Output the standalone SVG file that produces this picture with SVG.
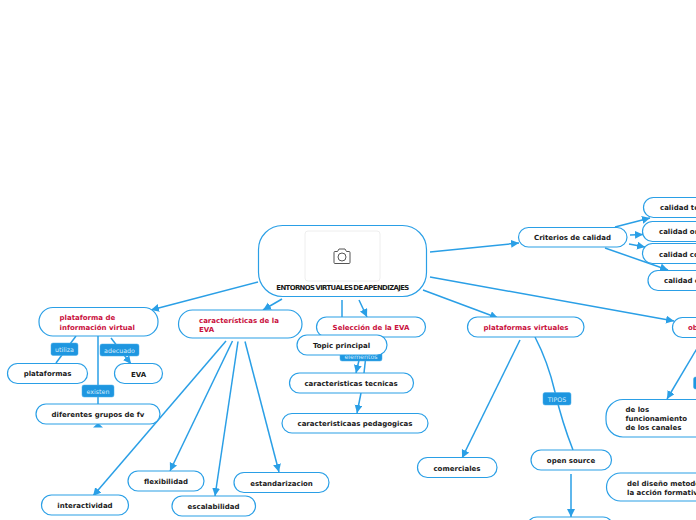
<svg xmlns="http://www.w3.org/2000/svg" width="696" height="520" viewBox="0 0 696 520">
<style>
.n{fill:#fff;stroke:#2a9fe6;stroke-width:1.2}
.t{font-family:"DejaVu Sans",sans-serif;font-weight:700;font-size:7px;fill:#1a1a1a;text-anchor:middle}
.s{text-anchor:start}
.r{fill:#c9103d}
.c{fill:none;stroke:#2a9fe6;stroke-width:1.5}
.a{marker-end:url(#h)}
.lb{fill:#1e96e0;stroke:#4aaeea;stroke-width:.5}
.lt{font-family:"DejaVu Sans",sans-serif;font-size:6.3px;fill:#d5ecfb;text-anchor:middle}
</style>
<defs>
<marker id="h" markerUnits="userSpaceOnUse" markerWidth="10" markerHeight="10" refX="8" refY="4" orient="auto"><path d="M0 0L8 4L0 8Z" fill="#2a9fe6"/></marker>
</defs>
<g id="connectors">
<path class="c a" d="M430 252L519 243"/>
<path class="c a" d="M258 282L151 310"/>
<path class="c a" d="M282 299L263 310"/>
<path class="c" d="M342 300V340"/>
<path class="c a" d="M359 300L367 317"/>
<path class="c a" d="M423 290L498 318"/>
<path class="c a" d="M430 277L674 321"/>
<path class="c a" d="M615 227L650 218"/>
<path class="c a" d="M630 235L643 234.500"/>
<path class="c a" d="M629 244L645 247"/>
<path class="c a" d="M605 248L668 270"/>
<path class="c" d="M76 336L56 363"/>
<path class="c a" d="M111 338L131 364"/>
<path class="c" d="M98 336V404"/>
<path class="c a" d="M226 341L93 496"/>
<path class="c a" d="M232.500 341L170 471"/>
<path class="c a" d="M238 341.500L215 496"/>
<path class="c a" d="M245 341.500L279 472"/>
<path class="c a" d="M360 356L356 373"/>
<path class="c" d="M366 355L364 373"/>
<path class="c a" d="M361 393L357 413"/>
<path class="c a" d="M520 340L462 458"/>
<path class="c" d="M535 337Q548 362 555 392T573 450"/>
<path class="c a" d="M571 474V517"/>
<path class="c a" d="M702 340L667 399"/>
<path d="M98 423L103 427.500H93Z" fill="#2a9fe6"/>
</g>
<g id="root"><rect class="n" x="258.500" y="225.500" width="168" height="71" rx="24"/>
<rect x="305" y="231" width="75" height="50" rx="3" fill="#fff" stroke="#eeeeee"/>
<g fill="none" stroke="#555" stroke-width="1"><path d="M334 252.500a1 1 0 0 1 1-1h2.500l1.500-2.500h6l1.500 2.500h2.500a1 1 0 0 1 1 1v10a1 1 0 0 1-1 1h-14a1 1 0 0 1-1-1z"/><circle cx="342" cy="257" r="4"/></g>
<text class="t" x="342.500" y="290" style="font-size:6.9px;letter-spacing:-.6px;word-spacing:-.8px">ENTORNOS VIRTUALES DE APENDIZAJES</text></g>
<g id="n-criterios"><rect class="n" x="518.500" y="227.500" width="108.500" height="19.500" rx="10"/><text class="t" x="572.500" y="240">Criterios de calidad</text></g>
<g id="n-tecnica"><rect class="n" x="643.500" y="197.500" width="70" height="20" rx="10"/><text class="t s" x="660" y="210">calidad te</text></g>
<g id="n-organizativa"><rect class="n" x="642.500" y="221.500" width="70" height="20" rx="10"/><text class="t s" x="659" y="234">calidad or</text></g>
<g id="n-comunicativa"><rect class="n" x="642.500" y="243.500" width="70" height="20" rx="10"/><text class="t s" x="659" y="257">calidad co</text></g>
<g id="n-e"><rect class="n" x="648" y="270.500" width="70" height="20" rx="10"/><text class="t s" x="664" y="283">calidad e</text></g>
<g id="n-plataforma"><rect class="n" x="39" y="307.500" width="119" height="28.500" rx="14"/><text class="t s r" x="59.500" y="320">plataforma de</text><text class="t s r" x="59.500" y="329.500">información virtual</text></g>
<g id="n-plataformas"><rect class="n" x="7.500" y="363.500" width="80" height="20" rx="10"/><text class="t" x="47.500" y="376">plataformas</text></g>
<g id="n-eva"><rect class="n" x="114.500" y="363.500" width="48" height="20" rx="10"/><text class="t" x="138.500" y="377">EVA</text></g>
<g id="n-grupos"><rect class="n" x="36" y="404" width="124" height="20" rx="10"/><text class="t" x="98" y="417">diferentes grupos de fv</text></g>
<g id="l-utiliza"><rect class="lb" x="51" y="343" width="27" height="12.500" rx="2"/><text class="lt" x="64.500" y="352">utiliza</text></g>
<g id="l-adecuado"><rect class="lb" x="100" y="344" width="39" height="12" rx="2"/><text class="lt" x="119.500" y="352.500">adecuado</text></g>
<g id="l-existen"><rect class="lb" x="82" y="385" width="32" height="12" rx="2"/><text class="lt" x="98" y="393.500">existen</text></g>
<g id="n-caracteristicas"><rect class="n" x="178.500" y="310" width="123.500" height="28" rx="14"/><text class="t s r" x="199" y="323">características de la</text><text class="t s r" x="199" y="331.500">EVA</text></g>
<g id="n-seleccion"><rect class="n" x="316.500" y="317" width="109" height="20" rx="10"/><text class="t r" x="371" y="330">Selección de la EVA</text></g>
<g id="l-elementos"><rect class="lb" x="340" y="350" width="42" height="11" rx="2"/><text class="lt" x="361" y="358.500">elementos</text></g>
<g id="n-topic"><rect class="n" x="297" y="335" width="90" height="20" rx="10"/><text class="t" x="341.500" y="348">Topic principal</text></g>
<g id="n-tecnicas"><rect class="n" x="289.500" y="373" width="124" height="20" rx="10"/><text class="t" x="351" y="386">caracteristicas tecnicas</text></g>
<g id="n-pedagogicas"><rect class="n" x="282" y="413.500" width="146" height="19.500" rx="10"/><text class="t" x="355" y="426">caracteristicaas pedagogicas</text></g>
<g id="n-virtuales"><rect class="n" x="467.500" y="317" width="116.500" height="20" rx="10"/><text class="t r" x="526" y="330">plataformas virtuales</text></g>
<g id="n-ob"><rect class="n" x="672.500" y="317.500" width="60" height="20" rx="10"/><text class="t s r" x="688" y="330">ob</text></g>
<g id="n-flexibilidad"><rect class="n" x="128" y="471" width="76" height="20" rx="10"/><text class="t" x="166" y="484">flexibilidad</text></g>
<g id="n-estandarizacion"><rect class="n" x="234" y="472.500" width="95" height="20" rx="10"/><text class="t" x="281.500" y="485.500">estandarizacion</text></g>
<g id="n-interactividad"><rect class="n" x="41.500" y="495" width="87" height="20" rx="10"/><text class="t" x="85" y="508">interactividad</text></g>
<g id="n-escalabilidad"><rect class="n" x="172" y="496" width="83.500" height="20" rx="10"/><text class="t" x="213.500" y="509">escalabilidad</text></g>
<g id="n-comerciales"><rect class="n" x="417.500" y="457.500" width="79.500" height="20" rx="10"/><text class="t" x="457" y="471">comerciales</text></g>
<g id="n-open"><rect class="n" x="531" y="450" width="80.500" height="20" rx="10"/><text class="t" x="571" y="463">open source</text></g>
<g id="n-bottom"><rect class="n" x="527" y="517" width="86" height="20" rx="10"/></g>
<g id="l-tipos"><rect class="lb" x="543" y="392.500" width="28" height="12.500" rx="2"/><text class="lt" x="557" y="401.500">TIPOS</text></g>
<g id="n-canales"><rect class="n" x="606" y="399.500" width="110" height="37.500" rx="17"/><text class="t s" x="625.500" y="412">de los</text><text class="t s" x="625.500" y="421">funcionamiento</text><text class="t s" x="625.500" y="429.500">de los canales</text></g>
<g id="n-diseno"><rect class="n" x="606.500" y="473" width="110" height="28" rx="14"/><text class="t s" x="627" y="486">del diseño metodo</text><text class="t s" x="627" y="494.500">la acción formativ</text></g>
<g id="l-right"><rect class="lb" x="693.500" y="377" width="20" height="12" rx="2"/></g>
</svg>
